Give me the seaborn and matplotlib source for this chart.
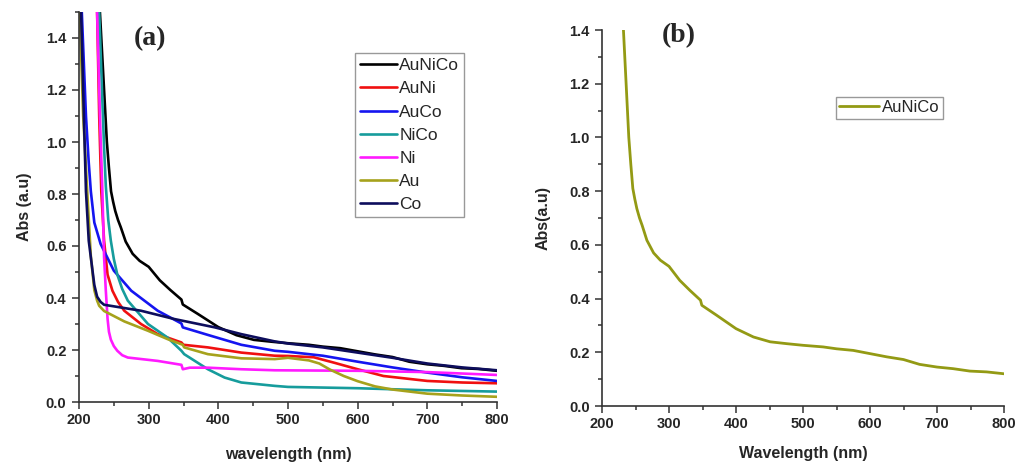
import numpy as np
import pandas as pd
import matplotlib
matplotlib.use("Agg")
import matplotlib.pyplot as plt
from matplotlib.ticker import MultipleLocator
import seaborn as sns

# ---------------- data ----------------
series_names = ["AuNiCo", "AuNi", "AuCo", "NiCo", "Ni", "Au", "Co"]

aunico_x = [230, 232, 236, 240, 243, 246, 249, 252, 256, 260, 267, 277, 287, 300, 316, 331,
            347, 349, 371, 400, 426, 451, 476, 500, 530, 550, 575, 600, 625, 650, 674, 700,
            724, 749, 774, 800]
aunico_y = [1.5, 1.4, 1.2, 1.0, 0.9, 0.81, 0.77, 0.735, 0.70, 0.672, 0.617, 0.57, 0.543,
            0.52, 0.468, 0.431, 0.394, 0.375, 0.338, 0.288, 0.257, 0.239, 0.232, 0.226,
            0.22, 0.213, 0.207, 0.195, 0.183, 0.173, 0.155, 0.145, 0.139, 0.13, 0.127, 0.12]

auni_x = [226, 229, 232, 236, 241, 248, 256, 265, 289, 313, 347, 350, 385, 433, 481, 500,
          537, 565, 600, 637, 700, 750, 800]
auni_y = [1.5, 1.1, 0.81, 0.62, 0.49, 0.428, 0.385, 0.351, 0.30, 0.261, 0.229, 0.22, 0.21,
          0.19, 0.178, 0.177, 0.172, 0.152, 0.126, 0.10, 0.081, 0.075, 0.072]

auco_x = [204, 210, 214, 217, 222, 231, 250, 275, 313, 347, 349, 385, 433, 481, 500, 550,
          600, 650, 700, 750, 800]
auco_y = [1.5, 1.1, 0.92, 0.81, 0.69, 0.608, 0.505, 0.428, 0.351, 0.302, 0.287, 0.258,
          0.22, 0.197, 0.193, 0.178, 0.155, 0.133, 0.113, 0.095, 0.081]

nico_x = [229, 233, 236, 238.5, 242, 245.7, 250, 255, 262, 270, 299, 327, 347, 351, 385,
          409, 433, 481, 500, 600, 700, 800]
nico_y = [1.5, 1.2, 0.98, 0.83, 0.7, 0.62, 0.55, 0.49, 0.435, 0.39, 0.30, 0.248, 0.197,
          0.184, 0.126, 0.094, 0.075, 0.062, 0.058, 0.053, 0.045, 0.04]

ni_x = [226, 230, 233.6, 236, 238.5, 241, 243, 245.7, 250, 255, 262, 270, 313, 347, 349,
        359, 385, 433, 481, 600, 700, 800]
ni_y = [1.5, 1.1, 0.81, 0.557, 0.428, 0.32, 0.27, 0.24, 0.215, 0.197, 0.18, 0.171, 0.158,
        0.143, 0.126, 0.132, 0.132, 0.126, 0.122, 0.12, 0.115, 0.104]

au_x = [201, 206, 212, 217, 222, 226, 229, 236, 265, 299, 327, 349, 351, 385, 433, 481,
        500, 530, 545, 560, 580, 600, 625, 650, 700, 750, 800]
au_y = [1.5, 1.1, 0.8, 0.56, 0.43, 0.39, 0.37, 0.35, 0.31, 0.274, 0.242, 0.22, 0.21,
        0.184, 0.168, 0.165, 0.17, 0.16, 0.148, 0.125, 0.10, 0.08, 0.06, 0.048, 0.032,
        0.025, 0.02]

co_x = [203, 207, 210, 214, 222, 226, 231, 236, 289, 337, 395, 433, 481, 500, 550, 600,
        650, 700, 750, 800]
co_y = [1.5, 1.1, 0.81, 0.62, 0.45, 0.405, 0.385, 0.374, 0.351, 0.319, 0.287, 0.261,
        0.233, 0.225, 0.21, 0.19, 0.17, 0.148, 0.133, 0.122]

xs = [aunico_x, auni_x, auco_x, nico_x, ni_x, au_x, co_x]
ys = [aunico_y, auni_y, auco_y, nico_y, ni_y, au_y, co_y]

palette = {"AuNiCo": "#000000", "AuNi": "#f01010", "AuCo": "#1515f0",
           "NiCo": "#169c9c", "Ni": "#ff1aff", "Au": "#a6a21c", "Co": "#0d0d5c"}
single_color = "#939a14"

x_ticks = [200, 300, 400, 500, 600, 700, 800]

df = pd.concat([pd.DataFrame({"wavelength": x, "abs": y, "sample": n})
                for n, x, y in zip(series_names, xs, ys)], ignore_index=True)
df_b = pd.DataFrame({"wavelength": aunico_x, "abs": aunico_y, "sample": "AuNiCo"})

# ---------------- style ----------------
sns.set_theme(style="ticks")
plt.rcParams["font.family"] = ["Liberation Sans", "DejaVu Sans"]
plt.rcParams["font.weight"] = "bold"

fig = plt.figure(figsize=(10.16, 4.63), dpi=100)
axA = fig.add_axes([79/1016, 1-402/463, 418/1016, 390/463])
axB = fig.add_axes([602/1016, 1-406/463, 402/1016, 376/463])

sns.lineplot(data=df, x="wavelength", y="abs", hue="sample", hue_order=series_names,
             palette=palette, estimator=None, sort=False, linewidth=1.9, ax=axA)
sns.lineplot(data=df_b, x="wavelength", y="abs", hue="sample", palette={"AuNiCo": single_color},
             estimator=None, sort=False, linewidth=2.0, ax=axB)

for ax, ytop in ((axA, 1.5), (axB, 1.4)):
    ax.set_xlim(200, 800)
    ax.set_ylim(0, ytop)
    ax.set_xticks(x_ticks)
    ax.xaxis.set_minor_locator(MultipleLocator(50))
    ax.set_yticks(np.arange(0, 1.41, 0.2))
    ax.yaxis.set_minor_locator(MultipleLocator(0.1))
    ax.yaxis.set_major_formatter(matplotlib.ticker.FormatStrFormatter("%.1f"))
    ax.tick_params(axis="both", which="major", length=5, width=1.1, color="#333333",
                   labelsize=10.5, pad=3)
    ax.tick_params(axis="both", which="minor", length=3, width=1.1, color="#333333")
    ax.tick_params(axis="y", which="major", pad=4)
    for lab in ax.get_xticklabels() + ax.get_yticklabels():
        lab.set_fontweight("bold")
    sns.despine(ax=ax)
    for s in ("left", "bottom"):
        ax.spines[s].set_color("#333333")
        ax.spines[s].set_linewidth(1.2)
    ax.patch.set_visible(False)

axA.set_xlabel("wavelength (nm)", fontsize=11.5, fontweight="bold")
axA.set_ylabel("Abs (a.u)", fontsize=11.5, fontweight="bold")
axA.xaxis.set_label_coords(0.5, -0.115)
axA.yaxis.set_label_coords(-0.113, 0.5)

axB.set_xlabel("Wavelength (nm)", fontsize=11.5, fontweight="bold")
axB.set_ylabel("Abs(a.u)", fontsize=11.5, fontweight="bold")
axB.xaxis.set_label_coords(0.5, -0.106)
axB.yaxis.set_label_coords(-0.128, 0.5)

axA.text(0.17, 0.933, "(a)", transform=axA.transAxes, ha="center", va="center",
         fontsize=20, fontweight="bold", family=["Liberation Serif", "DejaVu Serif"])
axB.text(0.19, 0.985, "(b)", transform=axB.transAxes, ha="center", va="center",
         fontsize=20, fontweight="bold", family=["Liberation Serif", "DejaVu Serif"])

legA = axA.legend(loc="upper left", bbox_to_anchor=(0.66, 0.895), frameon=True,
                  fancybox=False, edgecolor="#999999", framealpha=1, fontsize=12.5,
                  handlelength=2.1, handletextpad=0.15, labelspacing=0.46,
                  borderpad=0.3, borderaxespad=0)
legB = axB.legend(loc="upper left", bbox_to_anchor=(0.582, 0.822), frameon=True,
                  fancybox=False, edgecolor="#999999", framealpha=1, fontsize=12,
                  handlelength=2.4, handletextpad=0.15, borderpad=0.2, borderaxespad=0)
for leg in (legA, legB):
    leg.get_frame().set_linewidth(1.0)
    for t in leg.get_texts():
        t.set_fontweight("normal")
    leg.set_title(None)

fig.savefig("out.png", dpi=100)
